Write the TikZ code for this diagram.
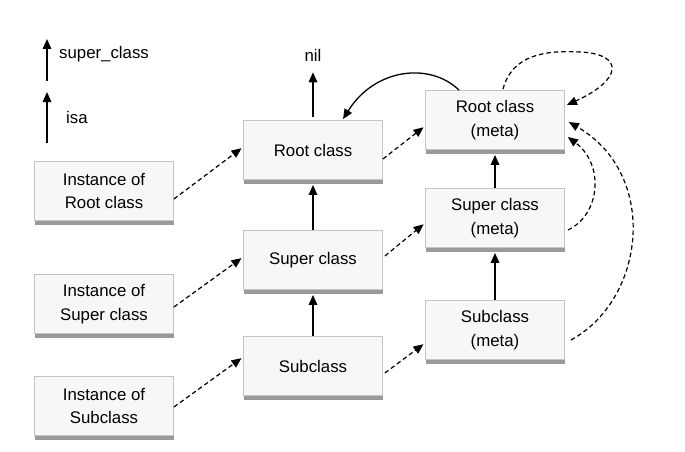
\documentclass[tikz,border=0pt]{standalone}
\usepackage{fontspec}
\setmainfont{Liberation Sans}
\usetikzlibrary{arrows.meta,shadows,calc}
\definecolor{boxfill}{HTML}{F7F7F7}
\definecolor{boxline}{HTML}{C4C4C4}
\definecolor{shade}{HTML}{9A9A9A}
\tikzset{
  cls/.style={draw=boxline, line width=0.8pt, fill=boxfill, minimum width=139pt, minimum height=59pt,
    inner sep=0pt, align=center, font=\fontsize{16.8}{23.5}\selectfont,
    drop shadow={shadow xshift=0.5pt, shadow yshift=-4pt, fill=shade, opacity=1}},
  lbl/.style={inner sep=0pt, font=\fontsize{16.8}{23.5}\selectfont},
  tip/.style={-{Triangle[length=10pt,width=8.5pt]}},
  sup/.style={tip, line width=1.5pt},
  isal/.style={tip, line width=1.2pt, dash pattern=on 4.5pt off 3pt},
}
\begin{document}
\begin{tikzpicture}[x=1pt,y=-1pt]
\useasboundingbox (0,0) rectangle (685,452);
% legend
\coordinate (ls0) at (47,81);
\coordinate (ls1) at (47,39);
\coordinate (li0) at (47,143);
\coordinate (li1) at (47,92);
\node[lbl, anchor=west] (lsup) at (59,54) {super\_class};
\node[lbl, anchor=west] (lisa) at (66,117) {isa};
\draw[sup] (ls0) -- (ls1);
\draw[sup] (li0) -- (li1);
% nodes
\node[cls] (iR) at (104,191) {Instance of\\Root class};
\node[cls] (iS) at (104,304) {Instance of\\Super class};
\node[cls] (iB) at (104,406) {Instance of\\Subclass};
\node[cls] (R) at (313,150) {Root class};
\node[cls] (S) at (313,260) {Super class};
\node[cls] (B) at (313,366) {Subclass};
\node[cls] (RM) at (495,120) {Root class\\(meta)};
\node[cls] (SM) at (495,218) {Super class\\(meta)};
\node[cls] (BM) at (495,330) {Subclass\\(meta)};
\node[lbl] (nil) at (313,55) {nil};
% superclass arrows
\draw[sup] ($(R.north)+(0,-3)$) -- ($(nil.south)+(0,11)$);
\draw[sup, shorten >=5pt] (S.north) -- (R.south);
\draw[sup, shorten >=5pt] (B.north) -- (S.south);
\draw[sup, shorten >=5pt] (SM.north) -- (RM.south);
\draw[sup, shorten >=5pt] (BM.north) -- (SM.south);
\draw[sup, line width=1.3pt] ($(RM.north)+(-36,0)$) .. controls (430,62) and (375,68) .. ($(R.north)+(30,-1)$);
% isa arrows
\draw[isal, shorten >=2pt] ($(iR.east)+(0,8)$) -- ($(R.west)+(0,-3)$);
\draw[isal, shorten >=2pt] ($(iS.east)+(0,3)$) -- ($(S.west)+(0,-3)$);
\draw[isal, shorten >=2pt] ($(iB.east)+(0,1)$) -- ($(B.west)+(0,-9)$);
\draw[isal, shorten >=2pt] ($(R.east)+(0,9)$) -- ($(RM.west)+(0,6)$);
\draw[isal, shorten >=2pt] ($(S.east)+(2,-4)$) -- ($(SM.west)+(0,5)$);
\draw[isal, shorten >=2pt] ($(B.east)+(2,7)$) -- ($(BM.west)+(0,13)$);
\draw[isal] ($(RM.north)+(8,-1)$) .. controls (512,55) and (545,50) .. (580,52) .. controls (625,54) and (622,80) .. ($(RM.east)+(2,-15)$);
\draw[isal] ($(SM.east)+(3,12)$) .. controls (600,215) and (605,165) .. ($(RM.east)+(3,17)$);
\draw[isal] ($(BM.east)+(6,10)$) .. controls (645,300) and (660,175) .. ($(RM.east)+(4,2)$);
\end{tikzpicture}
\end{document}
